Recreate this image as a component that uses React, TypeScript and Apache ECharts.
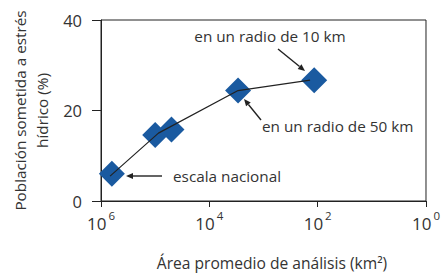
import React, { useEffect, useRef } from "react";
import * as echarts from "echarts";

// Data
const areaKm2 = [6.3e5, 1.0e5, 5.0e4, 2950, 116];
const popStress = [6.0, 14.6, 15.8, 24.4, 26.7];
const fitArea = [6.8e5, 8.7e4, 2950, 138];
const fitPop = [5.5, 15.0, 24.4, 26.7];
const yTicks = [0, 20, 40];
const annotations = ["en un radio de 10 km", "en un radio de 50 km", "escala nacional"];

const FONT = "'Open Sans', 'Noto Sans', sans-serif";
const TXT = "#333333";
const FS = 15.3;

function arrow(x1: number, y1: number, x2: number, y2: number) {
  const dx = x2 - x1;
  const dy = y2 - y1;
  const len = Math.sqrt(dx * dx + dy * dy);
  const ux = dx / len;
  const uy = dy / len;
  const hl = 7;
  const hw = 3;
  const bx = x2 - ux * hl;
  const by = y2 - uy * hl;
  return [
    {
      type: "line",
      shape: { x1, y1, x2: bx, y2: by },
      style: { stroke: "#222", lineWidth: 1.4 },
    },
    {
      type: "polygon",
      shape: {
        points: [
          [x2, y2],
          [bx - uy * hw, by + ux * hw],
          [bx + uy * hw, by - ux * hw],
        ],
      },
      style: { fill: "#222" },
    },
  ];
}

export default function App() {
  const ref = useRef<HTMLDivElement>(null);
  useEffect(() => {
    if (!ref.current) return;
    const chart = echarts.init(ref.current, null, { renderer: "svg" });
    chart.setOption({
      animation: false,
      grid: {
        left: 101,
        right: 17,
        top: 20,
        bottom: 72,
        show: true,
        borderColor: "#222",
        borderWidth: 1,
      },
      xAxis: {
        type: "log",
        logBase: 100,
        min: 1,
        max: 1e6,
        inverse: true,
        axisLine: { lineStyle: { color: "#222", width: 1 } },
        axisTick: { show: true, inside: false, length: 6, lineStyle: { color: "#222" } },
        splitLine: { show: false },
        minorTick: { show: false },
        axisLabel: {
          margin: 8,
          formatter: (v: number) => `{b|10}{s|${Math.round(Math.log10(v))}}`,
          rich: {
            b: { fontSize: 17, fontFamily: FONT, color: TXT, lineHeight: 23, verticalAlign: "bottom" },
            s: { fontSize: 11.5, fontFamily: FONT, color: TXT, lineHeight: 23, verticalAlign: "top", padding: [0, 0, 0, 2] },
          },
        },
      },
      yAxis: {
        type: "value",
        min: yTicks[0],
        max: yTicks[yTicks.length - 1],
        interval: 20,
        axisLine: { show: true, lineStyle: { color: "#222", width: 1 } },
        axisTick: { show: true, inside: false, length: 9, lineStyle: { color: "#222" } },
        splitLine: { show: false },
        axisLabel: { margin: 19, fontSize: 16.5, fontFamily: FONT, color: TXT },
      },
      series: [
        {
          type: "scatter",
          symbol: "diamond",
          symbolSize: 26,
          itemStyle: { color: "#1a5aa0", opacity: 1 },
          data: areaKm2.map((x, i) => [x, popStress[i]]),
          z: 2,
        },
        {
          type: "line",
          symbol: "none",
          lineStyle: { color: "#222", width: 1.2 },
          data: fitArea.map((x, i) => [x, fitPop[i]]),
          z: 3,
        },
      ],
      graphic: [
        {
          type: "text",
          x: 31,
          y: 110.5,
          rotation: Math.PI / 2,
          style: {
            text: "Población sometida a estrés\nhídrico (%)",
            fontSize: FS,
            lineHeight: 22,
            fontFamily: FONT,
            fill: TXT,
            align: "center",
            verticalAlign: "middle",
          },
        },
        {
          type: "text",
          x: 272,
          y: 263,
          style: {
            text: "Área promedio de análisis (km²)",
            fontSize: 15.6,
            fontFamily: FONT,
            fill: TXT,
            align: "center",
            verticalAlign: "middle",
          },
        },
        {
          type: "text",
          x: 270,
          y: 36,
          style: { text: annotations[0], fontSize: FS, fontFamily: FONT, fill: TXT, align: "center", verticalAlign: "middle" },
        },
        {
          type: "text",
          x: 262,
          y: 126,
          style: { text: annotations[1], fontSize: FS, fontFamily: FONT, fill: TXT, align: "left", verticalAlign: "middle" },
        },
        {
          type: "text",
          x: 173,
          y: 176,
          style: { text: annotations[2], fontSize: FS, fontFamily: FONT, fill: TXT, align: "left", verticalAlign: "middle" },
        },
        ...arrow(278, 49, 305, 71),
        ...arrow(261, 120, 244, 99),
        ...arrow(162, 176, 126, 176),
      ],
    });
    return () => chart.dispose();
  }, []);
  return <div ref={ref} style={{ width: 443, height: 273, position: "absolute", left: 0, top: 0 }} />;
}
